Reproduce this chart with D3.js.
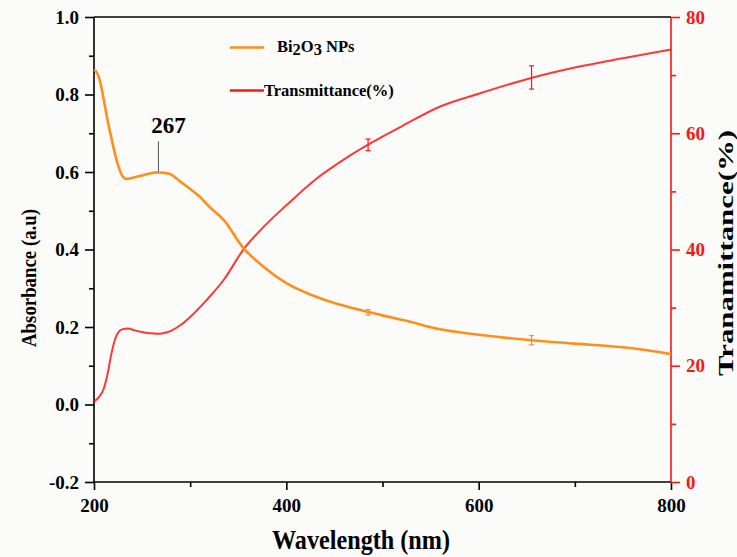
<!DOCTYPE html>
<html><head><meta charset="utf-8">
<script src="https://cdn.jsdelivr.net/npm/d3@7"></script>
<style>
html,body{margin:0;padding:0;background:#fbfbfa;}
svg{display:block;}
text{font-family:"Liberation Serif","Times New Roman",serif;font-weight:bold;}
</style></head>
<body>
<svg id="chart" width="737" height="557"></svg>
<script>
// ---- data ----
const absWavelength = [200,202,205,208,211,214,218,222,226,230,234,240,248,256,265,272,279,285,290,300,310,320,335,355,375,400,425,450,475,500,525,560,600,655,700,760,800];
const absorbance    = [0.863,0.860,0.845,0.815,0.775,0.735,0.688,0.645,0.610,0.588,0.582,0.585,0.590,0.595,0.599,0.598,0.595,0.585,0.575,0.556,0.536,0.510,0.476,0.405,0.358,0.313,0.284,0.262,0.245,0.230,0.216,0.194,0.180,0.166,0.157,0.145,0.130];
const trWavelength  = [200,205,210,214,218,222,226,230,235,242,250,258,265,272,280,290,300,317,335,355,380,400,430,460,490,520,560,600,650,700,750,800];
const transmittance = [13.8,14.6,16.0,18.5,22.0,24.6,25.9,26.3,26.4,26.1,25.8,25.6,25.5,25.6,26.0,27.0,28.4,31.3,34.8,39.9,44.5,47.6,52.0,55.5,58.5,61.2,64.6,66.8,69.3,71.3,72.9,74.4];
// small error-bar glitches visible on the curves
const glitchWavelength = [485, 655];
const absGlitch = [0.238, 0.166];
const absGlitchErr = [0.007, 0.012];
const trGlitch = [58.0, 69.6];
const trGlitchErr = [1.0, 2.0];
const xTicks = [200,400,600,800];
const xMinor = [300,500,700];
const leftTicks = [-0.2,0.0,0.2,0.4,0.6,0.8,1.0];
const leftMinor = [-0.1,0.1,0.3,0.5,0.7,0.9];
const rightTicks = [0,20,40,60,80];
const rightMinor = [10,30,50,70];
const peakLabel = 267;
const peakValue = 0.599;
const seriesNames = ["Bi", "2", "O", "3", " NPs"];
const legend2 = "Transmittance(%)";

// ---- layout ----
const L = 94, R = 671, T = 17, B = 482;
const orange = "#ff8f1c", red = "#ff1414";
const svg = d3.select("#chart");
const x = d3.scaleLinear().domain([200,800]).range([L,R]);
const yL = d3.scaleLinear().domain([-0.2,1.0]).range([B,T]);
const yR = d3.scaleLinear().domain([0,80]).range([B,T]);

function styleAxis(g, color, size){
  g.select(".domain").remove();
  g.selectAll("line").attr("stroke", color).attr("stroke-width", 1.6);
  g.selectAll("text").attr("fill", color).style("font-size", size+"px")
   .style("font-family","'Liberation Serif','Times New Roman',serif").style("font-weight","bold");
}

// frame lines
svg.append("line").attr("x1",L).attr("x2",R).attr("y1",T).attr("y2",T).attr("stroke","#000").attr("stroke-width",1.6);
svg.append("line").attr("x1",L).attr("x2",R).attr("y1",B).attr("y2",B).attr("stroke","#000").attr("stroke-width",1.6);
svg.append("line").attr("x1",L).attr("x2",L).attr("y1",T).attr("y2",B).attr("stroke","#000").attr("stroke-width",1.6);

// left axis
svg.append("g").attr("transform",`translate(${L},0)`)
  .call(d3.axisLeft(yL).tickValues(leftTicks).tickSize(9).tickPadding(6).tickFormat(d=>d3.format(".1f")(d).replace("−","-")))
  .call(g=>styleAxis(g,"#000",19));
svg.append("g").attr("transform",`translate(${L},0)`)
  .call(d3.axisLeft(yL).tickValues(leftMinor).tickSize(5).tickFormat(""))
  .call(g=>styleAxis(g,"#000",19));

// bottom axis
svg.append("g").attr("transform",`translate(0,${B})`)
  .call(d3.axisBottom(x).tickValues(xTicks).tickSize(8).tickPadding(9).tickFormat(d3.format("d")))
  .call(g=>styleAxis(g,"#000",19));
svg.append("g").attr("transform",`translate(0,${B})`)
  .call(d3.axisBottom(x).tickValues(xMinor).tickSize(5).tickFormat(""))
  .call(g=>styleAxis(g,"#000",19));

// right axis
svg.append("line").attr("x1",R).attr("x2",R).attr("y1",T).attr("y2",B).attr("stroke",red).attr("stroke-width",1.6);
svg.append("g").attr("transform",`translate(${R},0)`)
  .call(d3.axisRight(yR).tickValues(rightTicks).tickSize(9).tickPadding(6).tickFormat(d3.format("d")))
  .call(g=>styleAxis(g,red,19));
svg.append("g").attr("transform",`translate(${R},0)`)
  .call(d3.axisRight(yR).tickValues(rightMinor).tickSize(5).tickFormat(""))
  .call(g=>styleAxis(g,red,19));

// curves
const absData = absWavelength.map((w,i)=>[w,absorbance[i]]);
const trData = trWavelength.map((w,i)=>[w,transmittance[i]]);
const lineA = d3.line().x(d=>x(d[0])).y(d=>yL(d[1])).curve(d3.curveMonotoneX);
const lineT = d3.line().x(d=>x(d[0])).y(d=>yR(d[1])).curve(d3.curveMonotoneX);
svg.append("path").datum(trData).attr("d",lineT).attr("fill","none").attr("stroke",red).attr("stroke-width",2).attr("stroke-opacity",0.85);
svg.append("path").datum(absData).attr("d",lineA).attr("fill","none").attr("stroke",orange).attr("stroke-width",2.6);

// glitch error bars
function errBars(vals, errs, yScale, color){
  glitchWavelength.forEach((w,i)=>{
    const cx = x(w), y1 = yScale(vals[i]-errs[i]), y2 = yScale(vals[i]+errs[i]);
    svg.append("line").attr("x1",cx).attr("x2",cx).attr("y1",y1).attr("y2",y2).attr("stroke",color).attr("stroke-width",1.2);
    svg.append("line").attr("x1",cx-2.5).attr("x2",cx+2.5).attr("y1",y1).attr("y2",y1).attr("stroke",color).attr("stroke-width",1.2);
    svg.append("line").attr("x1",cx-2.5).attr("x2",cx+2.5).attr("y1",y2).attr("y2",y2).attr("stroke",color).attr("stroke-width",1.2);
  });
}
errBars(trGlitch, trGlitchErr, yR, red);
errBars(absGlitch, absGlitchErr, yL, orange);

// peak annotation
const px = x(peakLabel);
svg.append("line").attr("x1",px).attr("x2",px).attr("y1",yL(peakValue)-1).attr("y2",yL(peakValue)-31).attr("stroke","#555").attr("stroke-width",1);
svg.append("text").attr("x",px+10).attr("y",yL(peakValue)-39).attr("text-anchor","middle").style("font-size","23px").text(String(peakLabel));

// legend
svg.append("line").attr("x1",230).attr("x2",264).attr("y1",47.5).attr("y2",47.5).attr("stroke",orange).attr("stroke-width",2.6);
const lt = svg.append("text").attr("x",277).attr("y",52).style("font-size","16.5px");
lt.append("tspan").text(seriesNames[0]);
lt.append("tspan").attr("dy",3).text(seriesNames[1]);
lt.append("tspan").attr("dy",-3).text(seriesNames[2]);
lt.append("tspan").attr("dy",3).text(seriesNames[3]);
lt.append("tspan").attr("dy",-3).text(seriesNames[4]);
svg.append("line").attr("x1",230).attr("x2",264).attr("y1",90.5).attr("y2",90.5).attr("stroke",red).attr("stroke-width",2.4);
svg.append("text").attr("x",264).attr("y",95.5).style("font-size","16.5px").text(legend2);

// axis titles
svg.append("text").attr("transform","translate(36,278) rotate(-90)").attr("text-anchor","middle")
  .attr("textLength",138).attr("lengthAdjust","spacingAndGlyphs").style("font-size","20px").text("Absorbance (a.u)");
svg.append("text").attr("transform","translate(733,253) rotate(-90)").attr("text-anchor","middle")
  .attr("textLength",246).attr("lengthAdjust","spacingAndGlyphs").style("font-size","21px").text("Tranamittance(%)");
svg.append("text").attr("transform","translate(361,549) scale(1,1.18)").attr("text-anchor","middle")
  .attr("textLength",178).attr("lengthAdjust","spacingAndGlyphs").style("font-size","24px").text("Wavelength (nm)");
</script>
</body></html>
